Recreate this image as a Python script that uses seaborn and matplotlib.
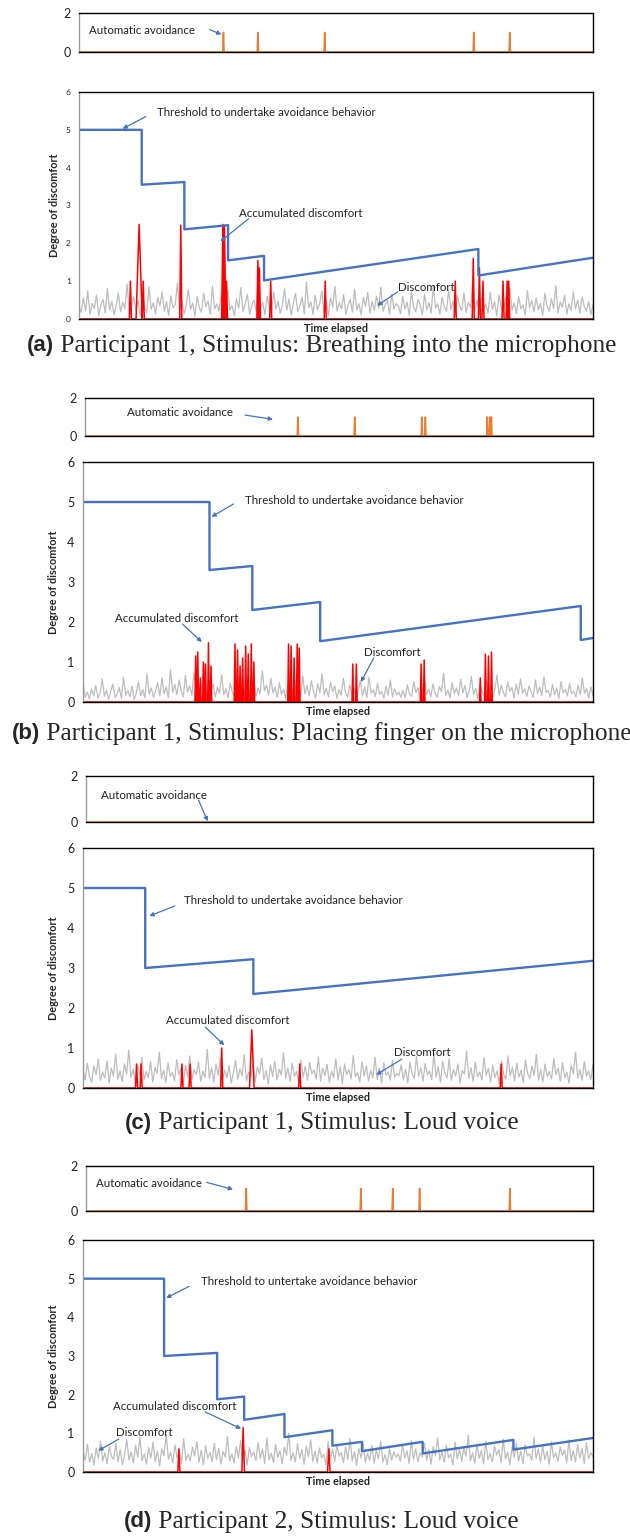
import matplotlib
matplotlib.use("Agg")
import matplotlib.pyplot as plt
import numpy as np
import pandas as pd
import seaborn as sns

sns.set_style("white")
plt.rcParams['font.family'] = ['Lato', 'DejaVu Sans']

########## DATA (time in % of the session) ##########

# threshold to undertake avoidance behaviour (blue)
thr_t_a = [0, 12.2, 12.2, 20.5, 20.5, 29.0, 29.0, 36.0, 36.0, 77.7, 77.7, 100]
thr_v_a = [5, 5, 3.55, 3.62, 2.37, 2.48, 1.55, 1.67, 1.02, 1.85, 1.15, 1.62]
thr_t_b = [0, 24.8, 24.8, 33.2, 33.2, 46.5, 46.5, 97.6, 97.6, 100]
thr_v_b = [5, 5, 3.3, 3.4, 2.3, 2.5, 1.52, 2.4, 1.55, 1.6]
thr_t_c = [0, 12.2, 12.2, 33.4, 33.4, 100]
thr_v_c = [5, 5, 3.0, 3.22, 2.35, 3.18]
thr_t_d = [0, 15.9, 15.9, 26.3, 26.3, 31.6, 31.6, 39.5, 39.5, 48.9, 48.9, 54.7, 54.7, 66.6, 66.6, 84.4, 84.4, 100]
thr_v_d = [5, 5, 3.0, 3.08, 1.88, 1.95, 1.35, 1.5, 0.9, 1.08, 0.68, 0.78, 0.54, 0.78, 0.48, 0.83, 0.58, 0.88]

# accumulated discomfort spikes (red): centre, height, half width
acc_t_a = [10.0, 11.7, 12.5, 19.8, 28.0, 28.3, 28.7, 34.8, 35.1, 37.3, 47.9, 73.2, 76.7, 77.9, 78.6, 82.5, 83.3, 83.6]
acc_h_a = [1.0, 2.5, 1.0, 2.48, 2.5, 2.45, 1.0, 1.55, 1.35, 1.0, 1.0, 1.0, 1.6, 1.35, 1.0, 1.0, 1.0, 1.0]
acc_w_a = [0.2, 0.6, 0.2, 0.2, 0.25, 0.25, 0.2, 0.2, 0.2, 0.2, 0.2, 0.2, 0.2, 0.2, 0.2, 0.2, 0.2, 0.2]
acc_t_b = [22.1, 22.5, 23.0, 23.6, 24.0, 24.6, 25.1,
           29.8, 30.3, 30.8, 31.3, 31.9, 32.4, 33.0, 33.5,
           40.3, 40.8, 41.4, 42.0, 42.4, 52.9, 53.6, 66.3, 66.9,
           77.9, 78.9, 79.5, 80.1]
acc_h_b = [1.15, 1.25, 0.6, 1.0, 0.95, 1.48, 0.9,
           1.45, 1.3, 0.9, 1.1, 1.4, 1.2, 1.45, 1.0,
           1.45, 1.4, 1.1, 1.45, 1.35, 0.95, 0.95, 0.95, 1.05,
           0.6, 1.2, 1.15, 1.25]
acc_w_b = [0.15] * len(acc_t_b)
acc_t_c = [10.5, 11.4, 19.4, 21.0, 27.2, 33.1, 42.5, 82.0]
acc_h_c = [0.6, 0.6, 0.6, 0.6, 1.0, 1.45, 0.6, 0.6]
acc_w_c = [0.2, 0.2, 0.2, 0.2, 0.2, 0.45, 0.2, 0.2]
acc_t_d = [18.8, 31.4, 48.2]
acc_h_d = [0.6, 1.15, 0.6]
acc_w_d = [0.2, 0.25, 0.25]

# automatic avoidance (orange)
avo_t_a = [28.1, 34.8, 47.8, 76.8, 83.8]
avo_t_b = [41.9, 53.1, 66.3, 67.0, 79.2, 79.7, 80.0]
avo_t_c = []
avo_t_d = [31.6, 54.2, 60.5, 65.8, 83.6]

# discomfort (grey)
gray_a = [0.32, 0.18, 0.55, 0.21, 0.74, 0.12, 0.41, 0.28, 0.63, 0.09, 0.37, 0.52, 0.16, 0.81, 0.24, 0.47, 0.11, 0.35,
          0.69, 0.19, 0.44, 0.27, 0.92, 0.15, 0.38, 0.58, 0.22, 0.49, 0.08, 0.66, 0.31, 0.17, 0.85, 0.26, 0.43, 0.13,
          0.57, 0.34, 0.72, 0.2, 0.46, 0.1, 0.61, 0.29, 0.39, 0.95, 0.23, 0.51, 0.14, 0.36, 0.78, 0.25, 0.42, 0.07,
          0.59, 0.3, 0.18, 0.68, 0.33, 0.48, 0.12, 0.87, 0.27, 0.4, 0.21, 0.62, 0.16, 0.45, 0.76, 0.24, 0.35, 0.09,
          0.54, 0.29, 0.83, 0.19, 0.41, 0.65, 0.13, 0.37, 0.5, 0.22, 0.9, 0.28, 0.44, 0.11, 0.6, 0.32, 0.2, 0.71,
          0.26, 0.47, 0.15, 0.38, 0.8, 0.23, 0.53, 0.1, 0.42, 0.67, 0.19, 0.34, 0.58, 0.14, 0.97, 0.3, 0.45, 0.12,
          0.63, 0.25, 0.39, 0.74, 0.17, 0.49, 0.08, 0.56, 0.31, 0.86, 0.21, 0.43, 0.27, 0.64, 0.13, 0.36, 0.52, 0.18,
          0.79, 0.24, 0.4, 0.11, 0.57, 0.33, 0.7, 0.16, 0.46, 0.22, 0.61, 0.29, 0.84, 0.2, 0.37, 0.5, 0.12, 0.66,
          0.26, 0.41, 0.35, 0.14, 0.6, 0.27, 0.45, 0.09, 0.73, 0.31, 0.19, 0.52, 0.38, 0.11, 0.66, 0.24, 0.43, 0.16,
          0.89, 0.29, 0.4, 0.13, 0.57, 0.33, 0.2, 0.77, 0.26, 0.48, 0.1, 0.62, 0.35, 0.22, 0.69, 0.17, 0.44, 0.3,
          0.93, 0.21, 0.5, 0.12, 0.58, 0.28, 0.39, 0.15, 0.71, 0.25, 0.46, 0.08, 0.64, 0.32, 0.18, 0.55, 0.36, 0.82,
          0.23, 0.42, 0.14, 0.6, 0.27, 0.37, 0.11, 0.75, 0.3, 0.49, 0.19, 0.56, 0.24, 0.41, 0.09, 0.68, 0.34, 0.2,
          0.53, 0.28, 0.88, 0.16, 0.45, 0.31, 0.63, 0.13, 0.4, 0.22, 0.72, 0.27, 0.5, 0.15, 0.59, 0.33, 0.21, 0.46,
          0.12, 0.38]
gray_b = [0.52, 0.12, 0.25, 0.08, 0.33, 0.15, 0.41, 0.1, 0.22, 0.58, 0.14, 0.3, 0.07, 0.26, 0.45, 0.11, 0.19, 0.36,
          0.09, 0.62, 0.17, 0.28, 0.13, 0.4, 0.06, 0.23, 0.5, 0.16, 0.31, 0.1, 0.7, 0.2, 0.35, 0.12, 0.27, 0.48,
          0.15, 0.6, 0.21, 0.38, 0.11, 0.82, 0.24, 0.44, 0.18, 0.55, 0.29, 0.13, 0.66, 0.25, 0.4, 0.17, 0.73, 0.3,
          0.5, 0.19, 0.63, 0.34, 0.14, 0.58, 0.27, 0.45, 0.12, 0.37, 0.22, 0.68, 0.18, 0.33, 0.1, 0.47, 0.24, 0.15,
          0.56, 0.2, 0.39, 0.09, 0.3, 0.52, 0.16, 0.26, 0.61, 0.13, 0.35, 0.21, 0.78, 0.28, 0.42, 0.17, 0.6, 0.23,
          0.37, 0.11, 0.49, 0.19, 0.32, 0.08, 0.44, 0.25, 0.14, 0.57, 0.22, 0.36, 0.12, 0.65, 0.2, 0.41, 0.15, 0.53,
          0.27, 0.1, 0.46, 0.23, 0.71, 0.18, 0.34, 0.13, 0.5, 0.26, 0.4, 0.09, 0.31, 0.17, 0.59, 0.24, 0.12, 0.43,
          0.2, 0.35, 0.07, 0.28, 0.54, 0.15, 0.38, 0.11, 0.62, 0.22, 0.3, 0.14, 0.47, 0.19, 0.26, 0.1, 0.4, 0.16,
          0.55, 0.13, 0.33, 0.18, 0.25, 0.12, 0.29, 0.11, 0.43, 0.2, 0.14, 0.51, 0.24, 0.36, 0.09, 0.27, 0.6, 0.18,
          0.32, 0.13, 0.45, 0.22, 0.12, 0.39, 0.26, 0.72, 0.16, 0.3, 0.1, 0.48, 0.21, 0.35, 0.15, 0.57, 0.23, 0.41,
          0.11, 0.28, 0.64, 0.19, 0.34, 0.08, 0.46, 0.25, 0.15, 0.53, 0.2, 0.38, 0.12, 0.3, 0.67, 0.17, 0.42, 0.24,
          0.13, 0.5, 0.27, 0.36, 0.1, 0.45, 0.19, 0.58, 0.22, 0.33, 0.14, 0.4, 0.26, 0.11, 0.55, 0.21, 0.37, 0.16,
          0.63, 0.24, 0.29, 0.12, 0.44, 0.18, 0.35, 0.09, 0.51, 0.23, 0.31, 0.15, 0.47, 0.2, 0.27, 0.13, 0.42, 0.18,
          0.6, 0.22, 0.34, 0.1, 0.38, 0.16]
gray_c = [0.45, 0.2, 0.62, 0.28, 0.14, 0.55, 0.33, 0.72, 0.19, 0.4, 0.25, 0.68, 0.12, 0.5, 0.3, 0.85, 0.22, 0.43,
          0.16, 0.6, 0.35, 0.95, 0.27, 0.48, 0.11, 0.58, 0.31, 0.76, 0.2, 0.41, 0.26, 0.66, 0.15, 0.52, 0.36, 0.9,
          0.24, 0.44, 0.13, 0.63, 0.29, 0.39, 0.18, 0.71, 0.33, 0.5, 0.09, 0.57, 0.28, 0.8, 0.21, 0.46, 0.34, 0.65,
          0.17, 0.42, 0.27, 0.97, 0.23, 0.51, 0.14, 0.6, 0.32, 0.74, 0.19, 0.45, 0.25, 0.56, 0.12, 0.38, 0.69, 0.22,
          0.48, 0.3, 0.83, 0.18, 0.4, 0.26, 0.61, 0.15, 0.53, 0.35, 0.75, 0.21, 0.43, 0.1, 0.58, 0.29, 0.67, 0.2,
          0.47, 0.33, 0.88, 0.24, 0.5, 0.16, 0.62, 0.3, 0.41, 0.13, 0.7, 0.27, 0.54, 0.19, 0.64, 0.36, 0.45, 0.22,
          0.78, 0.17, 0.49, 0.31, 0.59, 0.14, 0.42, 0.26, 0.73, 0.2, 0.52, 0.11, 0.6, 0.34, 0.46, 0.23, 0.81, 0.28,
          0.39, 0.15, 0.66, 0.3, 0.55, 0.18, 0.44, 0.25, 0.77, 0.21, 0.5, 0.12, 0.63, 0.32, 0.4, 0.19, 0.69, 0.27,
          0.36, 0.31, 0.58, 0.2, 0.47, 0.13, 0.65, 0.36, 0.24, 0.79, 0.29, 0.5, 0.17, 0.61, 0.33, 0.42, 0.21, 0.86,
          0.27, 0.53, 0.14, 0.67, 0.38, 0.25, 0.72, 0.19, 0.46, 0.3, 0.6, 0.12, 0.44, 0.35, 0.92, 0.23, 0.51, 0.16,
          0.64, 0.28, 0.4, 0.2, 0.76, 0.32, 0.49, 0.15, 0.57, 0.26, 0.43, 0.1, 0.68, 0.34, 0.22, 0.8, 0.3, 0.52,
          0.18, 0.62, 0.27, 0.45, 0.13, 0.7, 0.36, 0.24, 0.55, 0.31, 0.84, 0.2, 0.47, 0.15, 0.6, 0.29, 0.41, 0.22,
          0.73, 0.33, 0.5, 0.17, 0.63, 0.26, 0.39, 0.12, 0.57, 0.35, 0.9, 0.24, 0.46, 0.19, 0.66, 0.3, 0.43, 0.21,
          0.58]
gray_d = [0.55, 0.3, 0.72, 0.25, 0.48, 0.18, 0.62, 0.35, 0.8, 0.28, 0.5, 0.21, 0.66, 0.4, 0.33, 0.75, 0.26, 0.58,
          0.19, 0.45, 0.84, 0.31, 0.52, 0.23, 0.69, 0.38, 0.9, 0.29, 0.47, 0.2, 0.63, 0.36, 0.77, 0.27, 0.54, 0.16,
          0.6, 0.42, 0.98, 0.33, 0.51, 0.24, 0.7, 0.37, 0.59, 0.22, 0.86, 0.3, 0.46, 0.28, 0.65, 0.41, 0.79, 0.25,
          0.56, 0.19, 0.68, 0.35, 0.5, 0.27, 0.74, 0.32, 0.61, 0.2, 0.53, 0.39, 0.92, 0.29, 0.47, 0.24, 0.66, 0.36,
          0.81, 0.26, 0.57, 0.18, 0.63, 0.4, 0.52, 0.3, 0.76, 0.34, 0.6, 0.22, 0.88, 0.31, 0.49, 0.25, 0.71, 0.38,
          0.55, 0.21, 0.64, 0.43, 1.0, 0.3, 0.5, 0.26, 0.73, 0.35, 0.58, 0.2, 0.67, 0.39, 0.83, 0.28, 0.54, 0.23,
          0.62, 0.37, 0.46, 0.19, 0.78, 0.33, 0.59, 0.27, 0.7, 0.41, 0.5, 0.24, 0.65, 0.32, 0.87, 0.29, 0.53, 0.17,
          0.61, 0.36, 0.74, 0.25, 0.48, 0.3, 0.69, 0.22, 0.57, 0.34, 0.8, 0.26, 0.45, 0.19, 0.6, 0.31, 0.52, 0.38,
          0.47, 0.28, 0.7, 0.36, 0.55, 0.22, 0.81, 0.33, 0.6, 0.26, 0.49, 0.39, 0.74, 0.3, 0.57, 0.2, 0.66, 0.42,
          0.88, 0.31, 0.52, 0.25, 0.69, 0.37, 0.46, 0.18, 0.77, 0.34, 0.59, 0.27, 0.63, 0.4, 0.95, 0.29, 0.5, 0.23,
          0.72, 0.35, 0.56, 0.21, 0.8, 0.32, 0.48, 0.26, 0.67, 0.44, 0.58, 0.24, 0.85, 0.33, 0.51, 0.19, 0.64, 0.38,
          0.75, 0.28, 0.54, 0.22, 0.7, 0.41, 0.47, 0.3, 0.9, 0.35, 0.6, 0.25, 0.68, 0.32, 0.53, 0.2, 0.79, 0.37,
          0.49, 0.27, 0.65, 0.43, 0.57, 0.23, 0.83, 0.3, 0.55, 0.26, 0.71, 0.36, 0.62, 0.21, 0.76, 0.34, 0.5, 0.4]

captions = [("(a)", " Participant 1, Stimulus: Breathing into the microphone"),
            ("(b)", " Participant 1, Stimulus: Placing finger on the microphone"),
            ("(c)", " Participant 1, Stimulus: Loud voice"),
            ("(d)", " Participant 2, Stimulus: Loud voice")]
thr_labels = ["Threshold to undertake avoidance behavior"] * 3 + ["Threshold to untertake avoidance behavior"]

# (text x, text y, arrow tail, arrow head) in data units
ann_avo = [(2, 1.1, (25.4, 1.15), (27.7, 0.9)),
           (8.3, 1.25, (31.5, 1.1), (37.0, 0.88)),
           (3, 1.15, (22.2, 0.95), (24.0, 0.03)),
           (2, 1.22, (23.8, 1.27), (29.0, 0.96))]
ann_thr = [(15.2, 5.46, (13.0, 5.35), (8.5, 5.03)),
           (31.8, 5.05, (29.5, 4.95), (25.2, 4.63)),
           (19.8, 4.68, (18.0, 4.55), (13.0, 4.3)),
           (23.1, 4.93, (20.8, 4.8), (16.3, 4.5))]
ann_acc = [(31.1, 2.79, (33.0, 2.65), (27.5, 2.05)),
           (6.2, 2.1, (19.5, 1.95), (23.3, 1.5)),
           (16.2, 1.69, (24.0, 1.52), (27.7, 1.07)),
           (5.8, 1.69, (24.0, 1.55), (31.0, 1.12))]
ann_dis = [(62.0, 0.84, (62.0, 0.72), (58.0, 0.35)),
           (55.0, 1.25, (57.0, 1.1), (54.5, 0.5)),
           (61.0, 0.875, (62.5, 0.72), (57.5, 0.33)),
           (6.5, 1.02, (7.0, 0.85), (3.0, 0.55))]

# axes boxes in pixels: left, right, top, bottom
top_px = [(79, 593, 13, 52), (85, 593, 398, 436), (86, 593, 776, 822), (86, 593, 1166, 1211)]
main_px = [(79, 593, 92, 319), (83, 593, 462, 702), (83, 593, 848, 1088), (83, 593, 1240, 1472)]
cap_y = [346, 734, 1123, 1522]

panels = [
    (thr_t_a, thr_v_a, acc_t_a, acc_h_a, acc_w_a, avo_t_a, gray_a),
    (thr_t_b, thr_v_b, acc_t_b, acc_h_b, acc_w_b, avo_t_b, gray_b),
    (thr_t_c, thr_v_c, acc_t_c, acc_h_c, acc_w_c, avo_t_c, gray_c),
    (thr_t_d, thr_v_d, acc_t_d, acc_h_d, acc_w_d, avo_t_d, gray_d),
]

W, H = 630, 1537
BLUE = "#4472C4"
RED = "#FF0000"
GREY = "#BDBDBD"
ORANGE = "#ED7D31"
ANN = 8.3


def spikes(centres, heights, widths):
    t, v = [0], [0]
    for c, h, w in sorted(zip(centres, heights, widths)):
        t += [c - w, c, c + w]
        v += [0, h, 0]
    t.append(100)
    v.append(0)
    return pd.DataFrame({"t": t, "v": v})


def box(px):
    l, r, tp, b = px
    return [l / W, 1 - b / H, (r - l) / W, (b - tp) / H]


def style(ax, ylim, ticks, tsize):
    ax.set_xlim(0, 100)
    ax.set_ylim(*ylim)
    ax.set_yticks(ticks)
    ax.set_xticks([])
    ax.tick_params(axis="y", length=0, pad=6, labelsize=tsize, colors="#222222")
    for s in ["top", "right", "bottom"]:
        ax.spines[s].set_color("black")
        ax.spines[s].set_linewidth(1.0)
    ax.spines["left"].set_color("#9a9a9a")
    ax.spines["left"].set_linewidth(1.0)


def arrow(ax, tail, head):
    ax.annotate("", xy=head, xytext=tail,
                arrowprops=dict(arrowstyle="-|>", color=BLUE, lw=0.9, mutation_scale=6,
                                shrinkA=0, shrinkB=0))


fig = plt.figure(figsize=(W / 100, H / 100), dpi=100)

for i, (tt, tv, at, ah, aw, ot, gv) in enumerate(panels):
    # automatic avoidance strip
    axt = fig.add_axes(box(top_px[i]))
    avo = spikes(ot, [1.0] * len(ot), [0.12] * len(ot))
    sns.lineplot(data=avo, x="t", y="v", ax=axt, color=ORANGE, lw=1.2, sort=False, estimator=None)
    style(axt, (0, 2), [0, 2], 9)
    axt.set_xlabel("")
    axt.set_ylabel("")
    x, y, tail, head = ann_avo[i]
    axt.text(x, y, "Automatic avoidance", fontsize=ANN, va="center", color="#222222")
    arrow(axt, tail, head)

    # main degree of discomfort panel
    ax = fig.add_axes(box(main_px[i]))
    gdf = pd.DataFrame({"t": np.linspace(0, 100, len(gv)), "v": gv})
    sns.lineplot(data=gdf, x="t", y="v", ax=ax, color=GREY, lw=0.9, sort=False, estimator=None)
    sns.lineplot(data=spikes(at, ah, aw), x="t", y="v", ax=ax, color=RED, lw=1.1,
                 sort=False, estimator=None)
    thr = pd.DataFrame({"t": tt, "v": tv})
    sns.lineplot(data=thr, x="t", y="v", ax=ax, color=BLUE, lw=1.7, sort=False, estimator=None)
    style(ax, (0, 6), range(7), 6 if i == 0 else 9)
    ax.set_xlabel("Time elapsed", fontsize=7.8, fontweight="bold", labelpad=3)
    ax.set_ylabel("Degree of discomfort", fontsize=7.8, fontweight="bold", labelpad=4 if i == 0 else 6)

    x, y, tail, head = ann_thr[i]
    ax.text(x, y, thr_labels[i], fontsize=ANN, va="center", color="#222222")
    arrow(ax, tail, head)
    x, y, tail, head = ann_acc[i]
    ax.text(x, y, "Accumulated discomfort", fontsize=ANN, va="center", color="#222222")
    arrow(ax, tail, head)
    x, y, tail, head = ann_dis[i]
    ax.text(x, y, "Discomfort", fontsize=ANN, va="center", color="#222222")
    arrow(ax, tail, head)

# captions: bold sans tag + serif text, centred together
fig.canvas.draw()
renderer = fig.canvas.get_renderer()
for (tag, body), yp in zip(captions, cap_y):
    yf = 1 - yp / H
    t1 = fig.text(0, yf, tag, fontsize=16, fontweight="bold", va="center",
                  family=["Liberation Sans", "DejaVu Sans"])
    t2 = fig.text(0, yf, body, fontsize=18.3, va="center",
                  family=["Liberation Serif", "DejaVu Serif"])
    w1 = t1.get_window_extent(renderer).width / W
    w2 = t2.get_window_extent(renderer).width / W
    x0 = 0.51 - (w1 + w2) / 2
    t1.set_x(x0)
    t2.set_x(x0 + w1)

fig.savefig("out.png", dpi=100)
